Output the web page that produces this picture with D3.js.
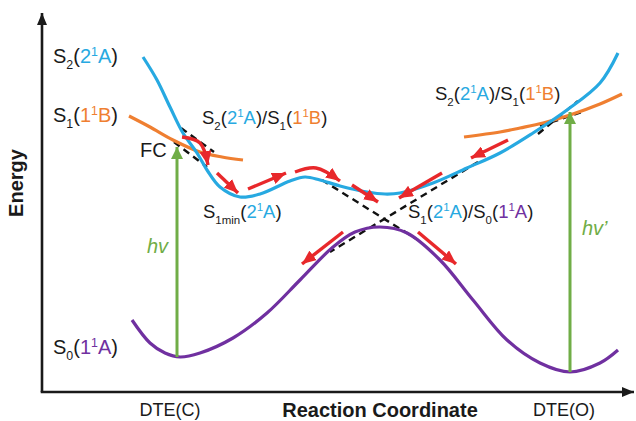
<!DOCTYPE html>
<html>
<head>
<meta charset="utf-8">
<script src="https://cdn.jsdelivr.net/npm/d3@7"></script>
<style>
  html, body { margin: 0; padding: 0; background: #fff; }
  svg { display: block; font-family: Arial, "Liberation Sans", sans-serif; }
</style>
</head>
<body>
<div id="chart"></div>
<script>
// Schematic potential energy curves, in arbitrary units
// x: reaction coordinate (0..590), y: energy (0..380)
const s2Curve = [[101,335],[115,312],[128,285],[141,259],[155,239],[165,222],[178,205],[198,195],[218,198],
  [248,211],[263,215],[278,212],[298,206],[325,200],[343,198],[358,199],[391,209],[425,224],[458,239],
  [491,259],[525,282],[558,309],[576,339]];
const s1LeftCurve = [[87,276],[108,265],[131,252],[158,240],[180,235],[201,232]];
const s1RightCurve = [[422,255],[458,260],[478,264],[501,269],[528,277],[558,288],[580,298]];
const s0Curve = [[90,72],[108,49],[123,39],[138,35],[158,39],[191,54],[225,79],[258,112],[291,145],
  [313,160],[338,165],[365,159],[398,132],[431,92],[465,52],[498,29],[528,20],[558,29],[576,42]];

// dashed diabatic continuations near the crossings
const crossings = [
  [[139,264],[172,240]],
  [[132,250],[165,225]],
  [[280,212],[376,152]],
  [[436,230],[288,140]],
  [[496,258],[536,291]],
  [[498,266],[540,280]]
];

// red relaxation paths
const paths = [
  [[140,255],[158,249],[166,227]],
  [[175,219],[196,199]],
  [[206,203],[244,219]],
  [[253,220],[274,224],[298,211]],
  [[310,207],[336,190]],
  [[400,219],[357,194]],
  [[466,252],[429,234]],
  [[301,160],[260,128]],
  [[376,160],[414,128]]
];

// vertical excitations: [x, from, to]
const excitations = [[135, 35, 245], [528, 20, 280]];

const W = 636, H = 421;
const C = { blue: "#27a9e1", orange: "#ef7f31", purple: "#7030a0", green: "#70ad47", red: "#e8282b", ink: "#1a1a1a" };

const svg = d3.select("#chart").append("svg").attr("width", W).attr("height", H);

const x = d3.scaleLinear().domain([0, 590]).range([42, 632]);
const y = d3.scaleLinear().domain([0, 380]).range([392, 12]);

const defs = svg.append("defs");
function marker(id, color, len, wid) {
  defs.append("marker")
    .attr("id", id)
    .attr("markerUnits", "userSpaceOnUse")
    .attr("viewBox", `0 0 ${len} ${wid}`)
    .attr("refX", len).attr("refY", wid / 2)
    .attr("markerWidth", len).attr("markerHeight", wid)
    .attr("orient", "auto")
    .append("path")
    .attr("d", `M0,0L${len},${wid / 2}L0,${wid}Z`)
    .attr("fill", color);
}
marker("axisHead", C.ink, 12, 10);
marker("redHead", C.red, 14, 12);
marker("greenHead", C.green, 12, 12);

const smooth = d3.line().x((d) => x(d[0])).y((d) => y(d[1])).curve(d3.curveCatmullRom.alpha(0.5));
const straight = d3.line().x((d) => x(d[0])).y((d) => y(d[1]));

// axes
svg.append("line")
  .attr("x1", x(0)).attr("y1", y(0)).attr("x2", x(0)).attr("y2", y(380) + 1)
  .attr("stroke", C.ink).attr("stroke-width", 2.6).attr("marker-end", "url(#axisHead)");
svg.append("line")
  .attr("x1", x(0) - 1.3).attr("y1", y(0)).attr("x2", x(592)).attr("y2", y(0))
  .attr("stroke", C.ink).attr("stroke-width", 2.6).attr("marker-end", "url(#axisHead)");

// dashed lines under the surfaces
svg.append("g").selectAll("path")
  .data(crossings)
  .join("path")
  .attr("d", straight)
  .attr("fill", "none")
  .attr("stroke", "#111")
  .attr("stroke-width", 2.4)
  .attr("stroke-dasharray", "7 5");

// surfaces
const surfaces = [
  { pts: s0Curve, color: C.purple },
  { pts: s1LeftCurve, color: C.orange },
  { pts: s1RightCurve, color: C.orange },
  { pts: s2Curve, color: C.blue }
];
svg.append("g").selectAll("path")
  .data(surfaces)
  .join("path")
  .attr("d", (d) => smooth(d.pts))
  .attr("fill", "none")
  .attr("stroke", (d) => d.color)
  .attr("stroke-width", 3.2)
  .attr("stroke-linecap", "butt");

// excitation arrows
svg.append("g").selectAll("line")
  .data(excitations)
  .join("line")
  .attr("x1", (d) => x(d[0])).attr("x2", (d) => x(d[0]))
  .attr("y1", (d) => y(d[1])).attr("y2", (d) => y(d[2]))
  .attr("stroke", C.green)
  .attr("stroke-width", 3)
  .attr("marker-end", "url(#greenHead)");

// relaxation arrows
svg.append("g").selectAll("path")
  .data(paths)
  .join("path")
  .attr("d", (d) => (d.length > 2 ? smooth(d) : straight(d)))
  .attr("fill", "none")
  .attr("stroke", C.red)
  .attr("stroke-width", 3.4)
  .attr("marker-end", "url(#redHead)");

// rich text: parts = [text, color, "sub" | "sup" | undefined]
function rich(px, py, parts, size, anchor) {
  const t = svg.append("text")
    .attr("x", px).attr("y", py)
    .attr("font-size", size)
    .attr("text-anchor", anchor || "start");
  let shift = 0;
  parts.forEach(([txt, color, pos]) => {
    const target = pos === "sub" ? size * 0.3 : pos === "sup" ? -size * 0.36 : 0;
    t.append("tspan")
      .attr("dy", target - shift)
      .attr("font-size", pos ? size * 0.62 : size)
      .attr("fill", color || C.ink)
      .text(txt);
    shift = target;
  });
  return t;
}

const k = C.ink;
rich(53, 63, [["S"], ["2", k, "sub"], ["("], ["2", C.blue], ["1", C.blue, "sup"], ["A", C.blue], [")"]], 20);
rich(53, 122, [["S"], ["1", k, "sub"], ["("], ["1", C.orange], ["1", C.orange, "sup"], ["B", C.orange], [")"]], 20);
rich(53, 354, [["S"], ["0", k, "sub"], ["("], ["1", C.purple], ["1", C.purple, "sup"], ["A", C.purple], [")"]], 20);
rich(140, 157, [["FC"]], 20);

const s2s1 = [["S"], ["2", k, "sub"], ["("], ["2", C.blue], ["1", C.blue, "sup"], ["A", C.blue], [")/S"],
  ["1", k, "sub"], ["("], ["1", C.orange], ["1", C.orange, "sup"], ["B", C.orange], [")"]];
rich(202, 124, s2s1, 18.5);
rich(435, 100, s2s1, 18.5);
rich(203, 218, [["S"], ["1min", k, "sub"], ["("], ["2", C.blue], ["1", C.blue, "sup"], ["A", C.blue], [")"]], 18.5);
rich(408, 218, [["S"], ["1", k, "sub"], ["("], ["2", C.blue], ["1", C.blue, "sup"], ["A", C.blue], [")/S"],
  ["0", k, "sub"], ["("], ["1", C.purple], ["1", C.purple, "sup"], ["A", C.purple], [")"]], 18.5);

rich(147, 253, [["hv", C.green]], 20).attr("font-style", "italic");
rich(582, 235, [["hv\u2019", C.green]], 20).attr("font-style", "italic");

rich(170, 416, [["DTE(C)"]], 18, "middle");
rich(564, 416, [["DTE(O)"]], 18, "middle");
rich(380, 417, [["Reaction Coordinate"]], 20, "middle").attr("font-weight", "bold");

svg.append("text")
  .attr("transform", "translate(23,183) rotate(-90)")
  .attr("text-anchor", "middle")
  .attr("font-size", 20)
  .attr("font-weight", "bold")
  .attr("fill", C.ink)
  .text("Energy");
</script>
</body>
</html>
